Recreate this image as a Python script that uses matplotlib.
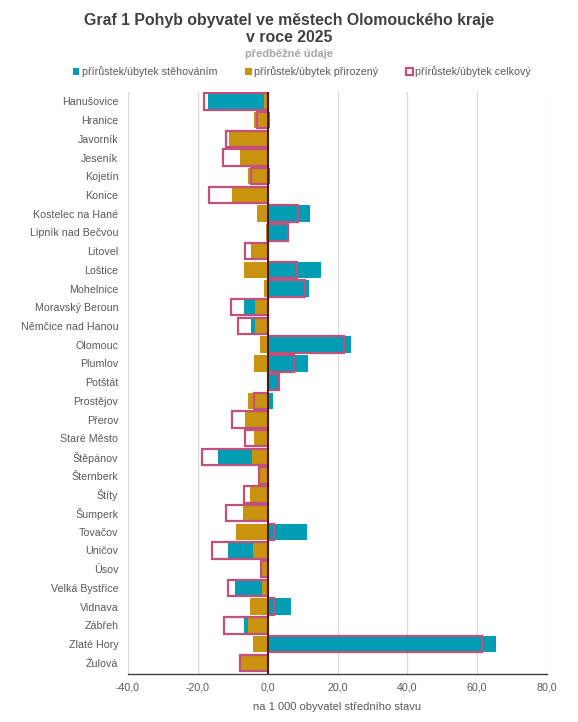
import matplotlib.pyplot as plt
from matplotlib.patches import Patch
from matplotlib.ticker import FuncFormatter

plt.rcParams['font.family'] = ['Liberation Sans', 'DejaVu Sans']

# Data (na 1 000 obyvatel středního stavu)
mesta = ['Hanušovice', 'Hranice', 'Javorník', 'Jeseník', 'Kojetín', 'Konice',
         'Kostelec na Hané', 'Lipník nad Bečvou', 'Litovel', 'Loštice',
         'Mohelnice', 'Moravský Beroun', 'Němčice nad Hanou', 'Olomouc',
         'Plumlov', 'Potštát', 'Prostějov', 'Přerov', 'Staré Město',
         'Štěpánov', 'Šternberk', 'Štíty', 'Šumperk', 'Tovačov', 'Uničov',
         'Úsov', 'Velká Bystřice', 'Vidnava', 'Zábřeh', 'Zlaté Hory', 'Žulová']
stehovani = [-17.2, 0.8, -0.6, -5.0, 0.8, -6.6, 12.0, 6.2, -1.9, 15.4,
             11.8, -6.8, -4.7, 23.9, 11.6, 3.3, 1.6, -3.6, -2.5, -14.1,
             0.5, -1.5, -4.8, 11.3, -11.5, -0.4, -9.5, 6.7, -6.7, 65.4, 0.0]
prirozeny = [-1.1, -3.9, -11.2, -7.8, -5.5, -10.2, -3.2, -0.6, -4.7, -6.8,
             -1.1, -3.7, -3.7, -2.1, -3.9, -0.2, -5.6, -6.6, -4.0, -4.6,
             -2.2, -5.2, -7.1, -9.2, -4.2, -1.5, -1.7, -5.0, -5.5, -4.2, -8.0]
celkovy = [-18.3, -3.2, -11.8, -12.8, -4.7, -16.8, 8.8, 5.7, -6.6, 8.5,
           10.7, -10.6, -8.6, 21.9, 7.6, 3.1, -3.9, -10.2, -6.5, -18.8,
           -2.5, -6.7, -11.9, 1.9, -16.0, -1.9, -11.5, 1.7, -12.4, 61.3, -8.0]

teal = '#009DB5'
gold = '#C9930F'
pink = '#C2507D'
text_col = '#595959'

fig = plt.figure(figsize=(5.78, 7.22), dpi=100)
ax = fig.add_axes([0.2215, 0.0665, 0.7249, 0.806])

y = range(len(mesta))
h = 0.88
ax.barh(y, stehovani, height=h, color=teal, zorder=2)
ax.barh(y, prirozeny, height=h, color=gold, zorder=3)
ax.barh(y, celkovy, height=h, facecolor='none', edgecolor=pink, linewidth=1.6, zorder=4)
ax.axvline(0, color='#3C1E1E', linewidth=1.4, zorder=5)

ax.set_xlim(-40, 80)
ax.set_ylim(len(mesta) - 0.4, -0.5)
ax.set_xticks([-40, -20, 0, 20, 40, 60, 80])
ax.xaxis.set_major_formatter(FuncFormatter(lambda v, p: f'{v:.1f}'.replace('.', ',')))
ax.set_yticks(list(y))
ax.set_yticklabels(mesta)
ax.tick_params(axis='both', length=0, labelsize=7.7, colors=text_col)
ax.tick_params(axis='y', pad=7)
ax.tick_params(axis='x', pad=6)
ax.grid(axis='x', color='#D9D9D9', linewidth=0.9, zorder=0)
ax.set_axisbelow(True)
for s in ['top', 'right', 'left']:
    ax.spines[s].set_visible(False)
ax.spines['bottom'].set_color('#404040')
ax.spines['bottom'].set_linewidth(1.0)
ax.set_xlabel('na 1 000 obyvatel středního stavu', fontsize=8, color=text_col, labelpad=7)

fig.text(0.5, 1 - 20 / 722, 'Graf 1 Pohyb obyvatel ve městech Olomouckého kraje',
         ha='center', va='center', fontsize=11.4, fontweight='bold', color='#404040')
fig.text(0.5, 1 - 38 / 722, 'v roce 2025',
         ha='center', va='center', fontsize=11.4, fontweight='bold', color='#404040')
fig.text(0.5, 1 - 54 / 722, 'předběžné údaje', ha='center', va='center',
         fontsize=8.0, fontweight='bold', color='#A6A6A6')

handles = [Patch(facecolor=teal, edgecolor='none'),
           Patch(facecolor=gold, edgecolor='none'),
           Patch(facecolor='white', edgecolor=pink, linewidth=1.6)]
labels = ['přírůstek/úbytek stěhováním', 'přírůstek/úbytek přirozený', 'přírůstek/úbytek celkový']
leg = fig.legend(handles, labels, loc='center', bbox_to_anchor=(302 / 578, 1 - 72 / 722),
                 ncol=3, frameon=False, fontsize=7.7, handlelength=0.6, handleheight=0.6,
                 handletextpad=0.25, columnspacing=2.6, labelcolor=text_col)

fig.savefig('out.png', dpi=100)
